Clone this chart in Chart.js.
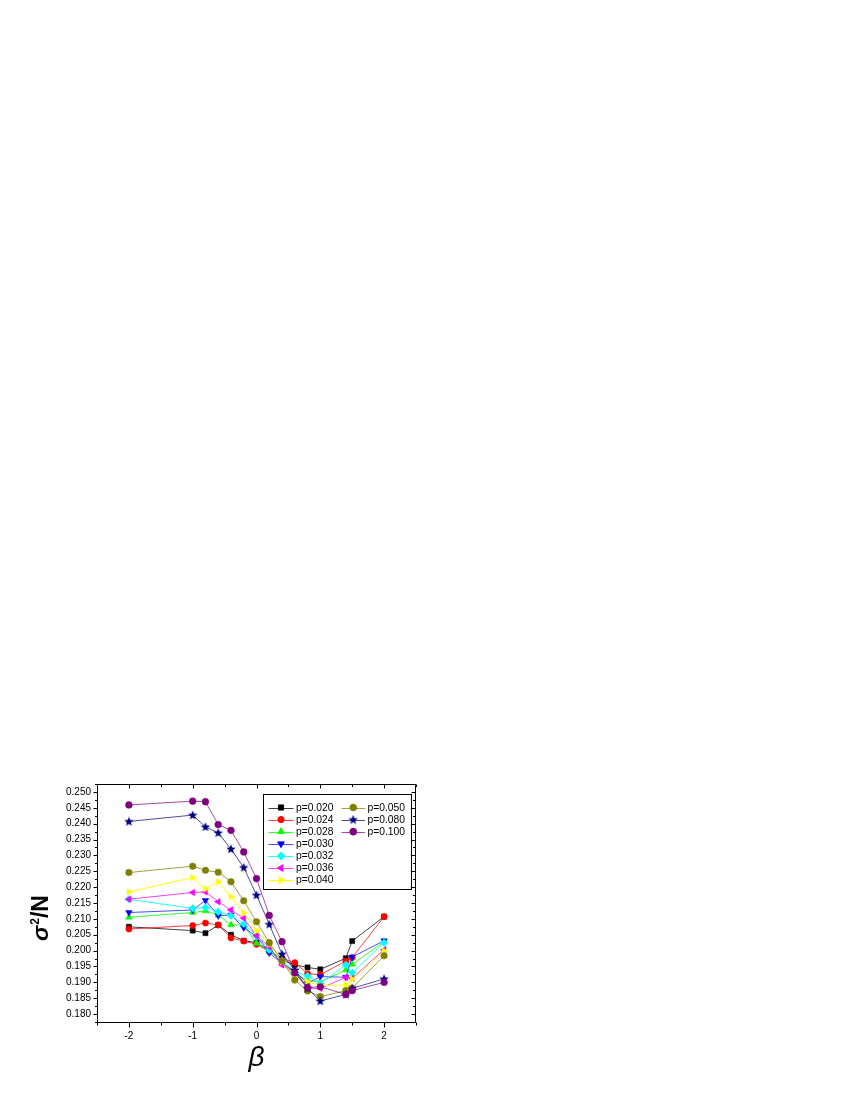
<!DOCTYPE html>
<html><head><meta charset="utf-8">
<script src="https://cdn.jsdelivr.net/npm/chart.js@4.4.1/dist/chart.umd.min.js"></script>
<style>html,body{margin:0;padding:0;background:#fff;}canvas{display:block;}</style>
</head><body>
<canvas id="c" width="850" height="1100"></canvas>
<script>
// ---- data ----
const betaValues = [-2, -1, -0.8, -0.6, -0.4, -0.2, 0, 0.2, 0.4, 0.6, 0.8, 1.0, 1.4, 1.5, 2];
const seriesLabels = ['p=0.020','p=0.024','p=0.028','p=0.030','p=0.032','p=0.036','p=0.040','p=0.050','p=0.080','p=0.100'];
const p020 = [0.2075, 0.2063, 0.2055, 0.2080, 0.2050, 0.2031, 0.2025, 0.2000, 0.1970, 0.1955, 0.1947, 0.1941, 0.1976, 0.2030, 0.2107];
const p024 = [0.2068, 0.2079, 0.2087, 0.2081, 0.2040, 0.2030, 0.2020, 0.1997, 0.1976, 0.1962, 0.1927, 0.1924, 0.1967, 0.1978, 0.2107];
const p028 = [0.2105, 0.2120, 0.2125, 0.2112, 0.2081, 0.2080, 0.2023, 0.2000, 0.1962, 0.1930, 0.1905, 0.1902, 0.1939, 0.1957, 0.2028];
const p030 = [0.2120, 0.2128, 0.2158, 0.2110, 0.2112, 0.2072, 0.2045, 0.1993, 0.1960, 0.1935, 0.1897, 0.1918, 0.1916, 0.1980, 0.2031];
const p032 = [0.2162, 0.2133, 0.2136, 0.2122, 0.2110, 0.2084, 0.2047, 0.2002, 0.1970, 0.1934, 0.1920, 0.1897, 0.1955, 0.1930, 0.2025];
const p036 = [0.2162, 0.2183, 0.2185, 0.2154, 0.2128, 0.2102, 0.2047, 0.2012, 0.1955, 0.1930, 0.1881, 0.1881, 0.1916, 0.1913, 0.2003];
const p040 = [0.2185, 0.2230, 0.2194, 0.2217, 0.2170, 0.2119, 0.2063, 0.2020, 0.1965, 0.1915, 0.1902, 0.1889, 0.1892, 0.1910, 0.1999];
const p050 = [0.2246, 0.2266, 0.2253, 0.2247, 0.2217, 0.2157, 0.2091, 0.2025, 0.1968, 0.1907, 0.1873, 0.1855, 0.1874, 0.1882, 0.1984];
const p080 = [0.2407, 0.2427, 0.2390, 0.2371, 0.2320, 0.2262, 0.2175, 0.2083, 0.1989, 0.1939, 0.1881, 0.1841, 0.1862, 0.1881, 0.1911];
const p100 = [0.2459, 0.2471, 0.2469, 0.2397, 0.2379, 0.2311, 0.2227, 0.2111, 0.2028, 0.1930, 0.1884, 0.1886, 0.1862, 0.1874, 0.1900];
const xTicks = [-2, -1, 0, 1, 2];
const xMinorTicks = [-2.5, -1.5, -0.5, 0.5, 1.5, 2.5];
const yTicks = [0.180, 0.185, 0.190, 0.195, 0.200, 0.205, 0.210, 0.215, 0.220, 0.225, 0.230, 0.235, 0.240, 0.245, 0.250];
const yMinorTicks = [0.1775, 0.1825, 0.1875, 0.1925, 0.1975, 0.2025, 0.2075, 0.2125, 0.2175, 0.2225, 0.2275, 0.2325, 0.2375, 0.2425, 0.2475, 0.2525];
const xTitle = 'β';
const yTitleParts = ['σ', '2', '/N'];

// ---- styles ----
const seriesValues = [p020, p024, p028, p030, p032, p036, p040, p050, p080, p100];
const colors = ['#000000','#FF0000','#00FF00','#0000FF','#00FFFF','#FF00FF','#FFFF00','#808000','#000080','#800080'];
const lineColors = ['rgba(0,0,0,0.75)','rgba(255,0,0,0.75)','rgba(0,255,0,0.8)','rgba(0,0,255,0.7)','rgba(0,255,255,0.85)','rgba(255,0,255,0.75)','rgba(255,255,0,0.95)','rgba(128,128,0,0.75)','rgba(0,0,128,0.7)','rgba(128,0,128,0.7)'];

function starCanvas(color){
  const c = document.createElement('canvas');
  c.width = 10; c.height = 10;
  const g = c.getContext('2d');
  g.fillStyle = color;
  g.beginPath();
  for (let i = 0; i < 10; i++) {
    const r = i % 2 === 0 ? 5 : 2.1;
    const a = -Math.PI/2 + i*Math.PI/5;
    const px = 5 + r*Math.cos(a), py = 5.3 + r*Math.sin(a);
    if (i === 0) g.moveTo(px, py); else g.lineTo(px, py);
  }
  g.closePath(); g.fill();
  return c;
}
const navyStar = starCanvas('#000080');
const markers = [
  {style:'rect', rot:0, r:3.6},
  {style:'circle', rot:0, r:3.1},
  {style:'triangle', rot:0, r:3.8},
  {style:'triangle', rot:180, r:3.8},
  {style:'rectRot', rot:0, r:3.8},
  {style:'triangle', rot:270, r:3.8},
  {style:'triangle', rot:90, r:3.8},
  {style:'circle', rot:0, r:3.3},
  {style:navyStar, rot:0, r:4},
  {style:'circle', rot:0, r:3.4}
];

const datasets = seriesValues.map((vals, i) => ({
  label: seriesLabels[i],
  data: betaValues.map((b, k) => ({x: b, y: vals[k]})),
  borderColor: lineColors[i],
  backgroundColor: colors[i],
  borderWidth: 1,
  pointStyle: markers[i].style,
  pointRotation: markers[i].rot,
  pointRadius: markers[i].r,
  pointBackgroundColor: colors[i],
  pointBorderColor: colors[i],
  pointBorderWidth: 0.5,
  tension: 0,
  order: 20 - i
}));

const frameAndLegend = {
  id: 'frameAndLegend',
  afterDraw(chart) {
    const ctx = chart.ctx;
    const a = chart.chartArea;
    const xs = chart.scales.x, ys = chart.scales.y;
    ctx.save();
    ctx.strokeStyle = '#000';
    ctx.lineWidth = 1;
    ctx.strokeRect(Math.round(a.left)+0.5, Math.round(a.top)+0.5, Math.round(a.right-a.left)-1, Math.round(a.bottom-a.top));
    ctx.beginPath();
    const L = Math.round(a.left)+0.5, R = Math.round(a.right)-0.5, T = Math.round(a.top)+0.5, B = Math.round(a.bottom)+0.5;
    xTicks.forEach(v => { const p = Math.round(xs.getPixelForValue(v))+0.5; ctx.moveTo(p, B); ctx.lineTo(p, B+5); ctx.moveTo(p, T); ctx.lineTo(p, T+4); });
    xMinorTicks.forEach(v => { const p = Math.round(xs.getPixelForValue(v))+0.5; ctx.moveTo(p, B); ctx.lineTo(p, B+3); ctx.moveTo(p, T); ctx.lineTo(p, T+2.5); });
    yTicks.forEach(v => { const p = Math.round(ys.getPixelForValue(v))+0.5; ctx.moveTo(L, p); ctx.lineTo(L-4, p); ctx.moveTo(R, p); ctx.lineTo(R-4, p); });
    yMinorTicks.forEach(v => { const p = Math.round(ys.getPixelForValue(v))+0.5; ctx.moveTo(L, p); ctx.lineTo(L-2.5, p); ctx.moveTo(R, p); ctx.lineTo(R-2.5, p); });
    ctx.stroke();

    // y-axis title with superscript
    const fonts = ['italic bold 23px "Liberation Sans", Arial', 'bold 12px "Liberation Sans", Arial', 'bold 23px "Liberation Sans", Arial'];
    const dys = [0, -9, 0];
    const widths = yTitleParts.map((t, i) => { ctx.font = fonts[i]; return ctx.measureText(t).width; });
    const total = widths.reduce((s, w) => s + w, 0) + 1;
    ctx.save();
    ctx.translate(48, (a.top + a.bottom) / 2 + 15);
    ctx.rotate(-Math.PI / 2);
    ctx.fillStyle = '#000';
    ctx.textBaseline = 'alphabetic';
    ctx.textAlign = 'left';
    let cx = -total / 2;
    yTitleParts.forEach((t, i) => { ctx.font = fonts[i]; ctx.fillText(t, cx, dys[i]); cx += widths[i] + (i === 0 ? 1 : 0); });
    ctx.restore();

    // legend
    const bx = Math.round(a.left + 166)+0.5, by = Math.round(a.top + 10)+0.5, bw = 148, bh = 95;
    ctx.fillStyle = '#fff';
    ctx.fillRect(bx, by, bw, bh);
    ctx.strokeStyle = '#000';
    ctx.lineWidth = 1;
    ctx.strokeRect(bx, by, bw, bh);
    ctx.font = '10.3px "Liberation Sans", Arial, sans-serif';
    ctx.textBaseline = 'middle';
    ctx.textAlign = 'left';
    chart.data.datasets.forEach((ds, i) => {
      const col = i < 7 ? 0 : 1;
      const row = i < 7 ? i : i - 7;
      const x0 = col === 0 ? bx + 5 : bx + 78;
      const len = col === 0 ? 25 : 23.5;
      const y0 = by + 13 + row * 12.1;
      ctx.strokeStyle = ds.borderColor;
      ctx.lineWidth = 1;
      ctx.beginPath(); ctx.moveTo(x0, Math.round(y0)+0.5); ctx.lineTo(x0 + len, Math.round(y0)+0.5); ctx.stroke();
      ctx.fillStyle = ds.pointBackgroundColor;
      ctx.strokeStyle = ds.pointBorderColor;
      Chart.helpers.drawPoint(ctx, {pointStyle: ds.pointStyle, rotation: ds.pointRotation, radius: ds.pointRadius, borderWidth: 0.5}, x0 + len / 2, y0);
      ctx.fillStyle = '#000';
      ctx.fillText(ds.label, x0 + len + 2.5, y0 + 0.5);
    });
    ctx.restore();
  }
};

new Chart(document.getElementById('c'), {
  type: 'line',
  data: { datasets },
  options: {
    responsive: false,
    animation: false,
    events: [],
    layout: { padding: { left: 0, top: 784, right: 434, bottom: 8 } },
    plugins: { legend: { display: false }, tooltip: { enabled: false } },
    scales: {
      x: {
        type: 'linear', min: -2.5, max: 2.5,
        afterBuildTicks: s => { s.ticks = xTicks.map(v => ({value: v})); },
        afterFit: s => { s.height = 70; },
        grid: { display: false, drawTicks: false },
        border: { display: false },
        ticks: { padding: 8, color: '#000', font: { family: '"Liberation Sans", Arial', size: 10 }, callback: v => String(v) },
        title: { display: true, text: xTitle, color: '#000', align: 'center', font: { family: '"Liberation Sans", Arial', style: 'italic', size: 28, lineHeight: 1 }, padding: { top: 0, bottom: 20 } }
      },
      y: {
        type: 'linear', min: 0.1775, max: 0.2525,
        afterBuildTicks: s => { s.ticks = yTicks.map(v => ({value: v})); },
        afterFit: s => { s.width = 97; },
        grid: { display: false, drawTicks: false },
        border: { display: false },
        ticks: { padding: 6, color: '#000', font: { family: '"Liberation Sans", Arial', size: 10 }, callback: v => v.toFixed(3) },
        title: { display: false }
      }
    }
  },
  plugins: [frameAndLegend]
});
</script>
</body></html>
